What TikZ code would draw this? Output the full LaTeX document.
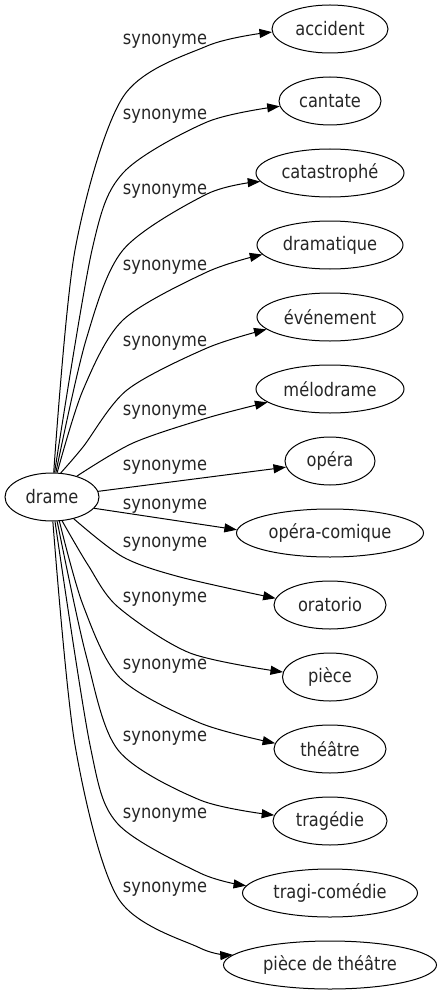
\documentclass[tikz,border=0pt]{standalone}
\usepackage{fontspec}
\setmainfont{DejaVu Sans}[FakeStretch=0.87]
\usetikzlibrary{arrows.meta,shapes.geometric}
\begin{document}
\begin{tikzpicture}[x=1pt,y=-1pt,
  every node/.style={font=\fontsize{18.67}{22}\selectfont, text=black!85},
  term/.style={draw, ellipse, line width=1pt, inner sep=0pt, minimum height=48pt},
  lbl/.style={inner sep=0pt},
  syn/.style={line width=1pt, -{Triangle[length=12.5pt,width=9pt]}}]
\useasboundingbox (0,0) rectangle (442,995);
\node[term, minimum width=94pt] (drame) at (52,497) {drame};
\node[term, minimum width=116pt] (accident) at (330,29) {accident};
\node[term, minimum width=102pt] (cantate) at (330,101) {cantate};
\node[term, minimum width=148pt] (catastrophe) at (330,173) {catastrophé};
\node[term, minimum width=146pt] (dramatique) at (330,245) {dramatique};
\node[term, minimum width=146pt] (evenement) at (330,317) {événement};
\node[term, minimum width=148pt] (melodrame) at (330,389) {mélodrame};
\node[term, minimum width=90pt] (opera) at (330,461) {opéra};
\node[term, minimum width=187pt] (operacomique) at (330,533) {opéra-comique};
\node[term, minimum width=112pt] (oratorio) at (330,605) {oratorio};
\node[term, minimum width=95pt] (piece) at (330,677) {pièce};
\node[term, minimum width=112pt] (theatre) at (330,749) {théâtre};
\node[term, minimum width=114pt] (tragedie) at (330,821) {tragédie};
\node[term, minimum width=175pt] (tragicomedie) at (330,893) {tragi-comédie};
\node[term, minimum width=213pt] (piecedetheatre) at (330,965) {pièce de théâtre};
\node[lbl] (l1) at (165,41) {synonyme};
\node[lbl] (l2) at (165,116) {synonyme};
\node[lbl] (l3) at (165,191) {synonyme};
\node[lbl] (l4) at (165,267) {synonyme};
\node[lbl] (l5) at (165,343) {synonyme};
\node[lbl] (l6) at (165,412) {synonyme};
\node[lbl] (l7) at (165,467) {synonyme};
\node[lbl] (l8) at (165,506) {synonyme};
\node[lbl] (l9) at (165,544) {synonyme};
\node[lbl] (l10) at (165,599) {synonyme};
\node[lbl] (l11) at (165,666) {synonyme};
\node[lbl] (l12) at (165,738) {synonyme};
\node[lbl] (l13) at (165,815) {synonyme};
\node[lbl] (l14) at (165,889) {synonyme};
\draw[syn] plot[smooth] coordinates {(drame.86) (75,250) (123,97) (207,46) (accident.183)};
\draw[syn] plot[smooth] coordinates {(drame.84) (92,250) (123,173) (207,122) (cantate.186)};
\draw[syn] plot[smooth] coordinates {(drame.81) (86,340) (123,250) (207,194) (catastrophe.187)};
\draw[syn] plot[smooth] coordinates {(drame.78) (83,390) (123,320) (207,272) (dramatique.188)};
\draw[syn] plot[smooth] coordinates {(drame.70) (83,447) (127,390) (207,348) (evenement.191)};
\draw[syn] plot[smooth] coordinates {(drame.40) (133,443) (207,418) (melodrame.192)};
\draw[syn] (drame.7) -- (opera.188);
\draw[syn] (drame.-15) -- (operacomique.178);
\draw[syn] plot[smooth] coordinates {(drame.-45) (123,557) (180,577) (oratorio.173)};
\draw[syn] plot[smooth] coordinates {(drame.-67) (88,565) (118,607) (190,653) (piece.174)};
\draw[syn] plot[smooth] coordinates {(drame.-73) (83,605) (120,678) (200,723) (theatre.174)};
\draw[syn] plot[smooth] coordinates {(drame.-78) (86,655) (118,750) (200,800) (tragedie.174)};
\draw[syn] plot[smooth] coordinates {(drame.-83) (90,745) (117,823) (200,873) (tragicomedie.175)};
\draw[syn] plot[smooth] coordinates {(drame.-88) (75,745) (118,898) (200,948) (piecedetheatre.174)};
\end{tikzpicture}
\end{document}
